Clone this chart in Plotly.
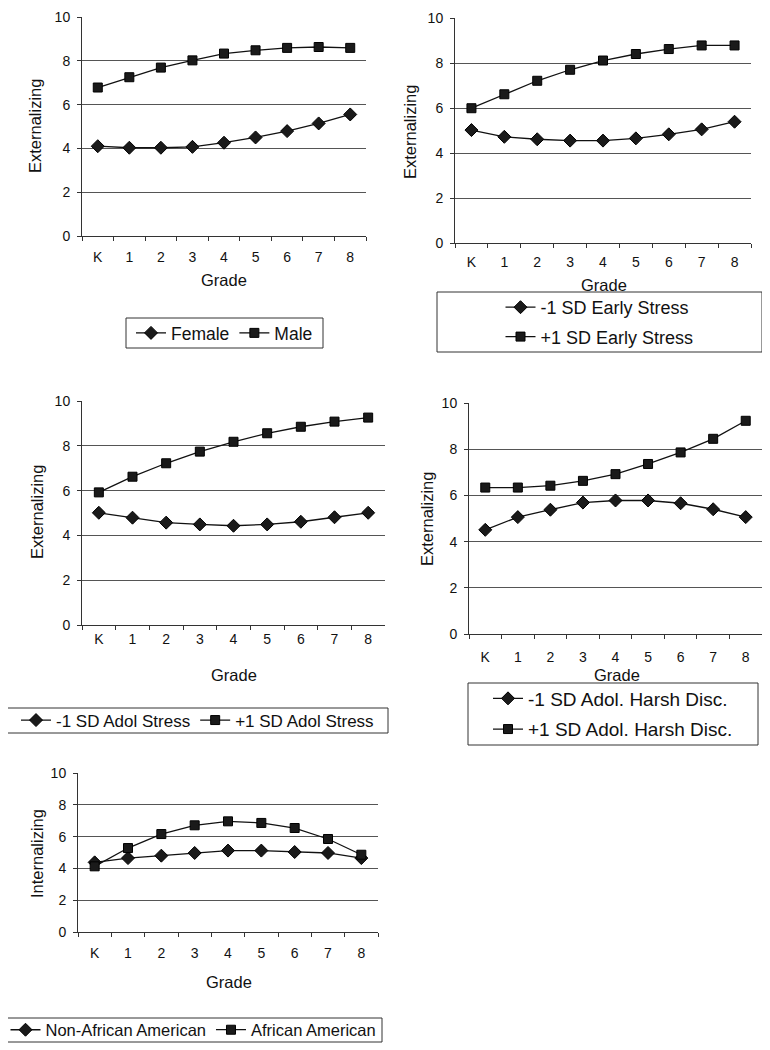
import plotly.graph_objects as go

# page body has an 8px margin; the figure is sized to fill the rest of the window
OFF = 8
W, H = 770 - OFF, 1050 - OFF

grades = ["K", "1", "2", "3", "4", "5", "6", "7", "8"]

female = [4.10, 4.03, 4.03, 4.07, 4.26, 4.50, 4.79, 5.14, 5.55]
male = [6.78, 7.25, 7.69, 8.02, 8.33, 8.48, 8.59, 8.63, 8.59]

early_low = [5.02, 4.72, 4.61, 4.55, 4.55, 4.65, 4.83, 5.05, 5.39]
early_high = [5.99, 6.61, 7.21, 7.70, 8.11, 8.40, 8.62, 8.78, 8.78]

adol_low = [5.01, 4.79, 4.57, 4.49, 4.43, 4.49, 4.61, 4.81, 5.01]
adol_high = [5.92, 6.62, 7.22, 7.74, 8.18, 8.56, 8.85, 9.08, 9.26]

harsh_low = [4.51, 5.06, 5.38, 5.69, 5.78, 5.78, 5.66, 5.40, 5.06]
harsh_high = [6.34, 6.34, 6.42, 6.63, 6.92, 7.36, 7.86, 8.45, 9.23]

non_aa = [4.38, 4.65, 4.80, 4.97, 5.12, 5.12, 5.03, 4.97, 4.65]
aa = [4.13, 5.28, 6.16, 6.71, 6.96, 6.86, 6.54, 5.85, 4.86]

y_titles = ["Externalizing", "Externalizing", "Externalizing", "Externalizing", "Internalizing"]
x_title = "Grade"

panels = [
    dict(series=(female, male), names=("Female", "Male"),
         box=(82, 366, 17, 236), ytitle=(35, 126), grade=(224, 280), standoff=8,
         lbox=(126, 323, 318, 348), orient="h", lfont=17.5),
    dict(series=(early_low, early_high), names=("-1 SD Early Stress", "+1 SD Early Stress"),
         box=(455, 751, 18, 243), ytitle=(410, 132), grade=(604, 285), standoff=6,
         lbox=(437, 762, 292, 352), orient="v", lfont=18),
    dict(series=(adol_low, adol_high), names=("-1 SD Adol Stress", "+1 SD Adol Stress"),
         box=(82, 385, 401, 625), ytitle=(37, 512), grade=(234, 675), standoff=1,
         lbox=(7, 388, 708, 733), orient="h", lfont=17),
    dict(series=(harsh_low, harsh_high), names=("-1 SD Adol. Harsh Disc.", "+1 SD Adol. Harsh Disc."),
         box=(469, 762, 403, 634), ytitle=(427, 519), grade=(617, 675), standoff=10,
         lbox=(468, 758, 683, 745), orient="v", lfont=19),
    dict(series=(non_aa, aa), names=("Non-African American", "African American"),
         box=(78, 378, 773, 932), ytitle=(37, 854), grade=(229, 982), standoff=8,
         lbox=(5, 382, 1018, 1042), orient="h", lfont=16.5),
]

symbols = ["diamond", "square"]
msizes = [10, 9]


def px_x(v):
    return (v - OFF) / W


def px_y(v):
    return 1 - (v - OFF) / H


fig = go.Figure()
layout = dict(
    width=W, height=H,
    margin=dict(l=0, r=0, t=0, b=0, autoexpand=False),
    paper_bgcolor="white", plot_bgcolor="white",
    font=dict(family="Liberation Sans, Arial, sans-serif", color="#111", size=14),
    annotations=[], shapes=[],
)

for i, p in enumerate(panels):
    k = i + 1
    xa = "x" if k == 1 else f"x{k}"
    ya = "y" if k == 1 else f"y{k}"
    lg = "legend" if k == 1 else f"legend{k}"
    x0, x1, yt, yb = p["box"]
    for j in range(2):
        fig.add_trace(go.Scatter(
            x=grades, y=p["series"][j], name=p["names"][j],
            mode="lines+markers",
            line=dict(color="#111", width=1.3),
            marker=dict(symbol=symbols[j], size=msizes[j], color="#1a1a1a",
                        line=dict(color="#000", width=1)),
            xaxis=xa, yaxis=ya, legend=lg, legendgroup=f"g{k}_{j}",
            showlegend=True,
        ))
    layout["xaxis" if k == 1 else f"xaxis{k}"] = dict(
        domain=[px_x(x0), px_x(x1)], anchor=ya, type="category",
        range=[-0.5, 8.5], showline=True, linecolor="#333", linewidth=1,
        ticks="outside", tickson="boundaries", ticklen=4, tickcolor="#333",
        showgrid=False, zeroline=False, tickfont=dict(size=14),
        ticklabelstandoff=p["standoff"], automargin=False,
    )
    layout["yaxis" if k == 1 else f"yaxis{k}"] = dict(
        domain=[px_y(yb), px_y(yt)], anchor=xa,
        range=[0, 10], dtick=2, tick0=0, showline=True, linecolor="#333", linewidth=1,
        ticks="outside", ticklen=4, tickcolor="#333",
        showgrid=True, gridcolor="#555", gridwidth=1, zeroline=False,
        tickfont=dict(size=14), ticklabelstandoff=4, automargin=False,
    )
    tx, ty = p["ytitle"]
    layout["annotations"].append(dict(
        text=y_titles[i], x=px_x(tx), y=px_y(ty), xref="paper", yref="paper",
        textangle=-90, showarrow=False, font=dict(size=16.5), xanchor="center", yanchor="middle"))
    gx, gy = p["grade"]
    layout["annotations"].append(dict(
        text=x_title, x=px_x(gx), y=px_y(gy), xref="paper", yref="paper",
        showarrow=False, font=dict(size=16.5), xanchor="center", yanchor="middle"))
    lx0, lx1, lyt, lyb = p["lbox"]
    layout["shapes"].append(dict(
        type="rect", xref="paper", yref="paper",
        x0=px_x(lx0), x1=px_x(lx1), y0=px_y(lyb), y1=px_y(lyt),
        line=dict(color="#333", width=1), fillcolor="rgba(0,0,0,0)"))
    layout[lg] = dict(
        x=px_x((lx0 + lx1) / 2), y=px_y((lyt + lyb) / 2),
        xanchor="center", yanchor="middle", xref="paper", yref="paper",
        orientation=p["orient"], bgcolor="rgba(0,0,0,0)", borderwidth=0,
        font=dict(size=p["lfont"]), tracegroupgap=3 if p["orient"] == "v" else 0,
        itemwidth=30,
    )

fig.update_layout(**layout)
fig.write_html("out.html")
